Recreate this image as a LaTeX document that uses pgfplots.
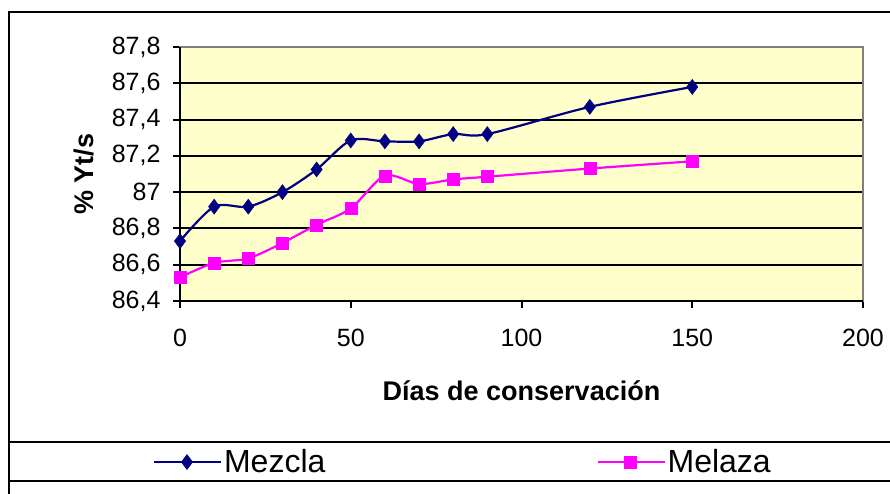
\documentclass[border=0pt]{standalone}
\usepackage{fontspec}
\setmainfont{Liberation Sans}
\usepackage{pgfplots}
\pgfplotsset{compat=1.18}
\definecolor{navyc}{RGB}{0,0,128}
\definecolor{magc}{RGB}{255,0,255}
\definecolor{bgc}{RGB}{255,255,204}
\begin{document}
\begin{tikzpicture}
\useasboundingbox (0pt,0pt) rectangle (890pt,493pt);
\begin{scope}
\clip (0pt,0pt) rectangle (890pt,493pt);
\draw[line width=2.2pt] (9pt,-10pt) rectangle (905pt,481pt);
\draw[line width=2.2pt] (9pt,12pt) rectangle (905pt,51pt);
\end{scope}
\begin{axis}[
  at={(180pt,192pt)}, anchor=south west,
  scale only axis, width=683pt, height=254pt,
  xmin=0, xmax=200, ymin=86.4, ymax=87.8,
  xtick={0,50,100,150,200},
  ytick={86.4,86.6,86.8,87,87.2,87.4,87.6,87.8},
  xticklabels={0,50,100,150,200},
  yticklabels={{86,4},{86,6},{86,8},{87},{87,2},{87,4},{87,6},{87,8}},
  xtick pos=bottom, ytick pos=left,
  tick label style={font=\fontsize{25}{27}\selectfont},
  xticklabel style={yshift=-18pt},
  yticklabel style={xshift=-9pt},
  tick align=outside, major tick length=7pt,
  tick style={black, line width=2pt},
  ymajorgrids, grid style={black, line width=2pt},
  axis background/.style={fill=bgc},
  axis line style={draw=gray, line width=2pt},
  xlabel={\textbf{Días de conservación}},
  ylabel={\textbf{\% Yt/s}},
  label style={font=\fontsize{27}{29}\selectfont},
  xlabel style={at={(rel axis cs:0.5,-0.354)}, anchor=center},
  ylabel style={at={(rel axis cs:-0.14,0.5)}, anchor=center},
  legend style={at={(rel axis cs:-0.04,-0.634)}, anchor=west, draw=none, fill=none,
    inner sep=0pt, font=\fontsize{32}{34}\selectfont,
    /tikz/every even column/.append style={column sep=269pt}},
  legend columns=2,
  legend image code/.code={\draw[mark repeat=2,mark phase=2,#1] plot coordinates {(0pt,0pt) (33pt,0pt) (67pt,0pt)};},
  clip=false,
]
\draw[black, line width=2pt] (rel axis cs:0,1) -- (rel axis cs:0,0) -- (rel axis cs:1,0);
\addplot[navyc, line width=2.2pt, smooth, tension=0.5, mark=diamond*, mark size=7.5pt, mark options={solid, fill=navyc, line width=0.5pt}]
coordinates {(0,86.73) (10,86.92) (20,86.92) (30,87.0) (40,87.125) (50,87.285) (60,87.28) (70,87.28) (80,87.32) (90,87.32) (120,87.47) (150,87.58)};
\addlegendentry{Mezcla}
\addplot[magc, line width=2.2pt, smooth, tension=0.5, mark=square*, mark size=6pt, mark options={solid, fill=magc, line width=0.5pt}]
coordinates {(0,86.53) (10,86.61) (20,86.635) (30,86.72) (40,86.82) (50,86.91) (60,87.09) (70,87.045) (80,87.07) (90,87.085) (120,87.13) (150,87.17)};
\addlegendentry{Melaza}
\end{axis}
\end{tikzpicture}
\end{document}
